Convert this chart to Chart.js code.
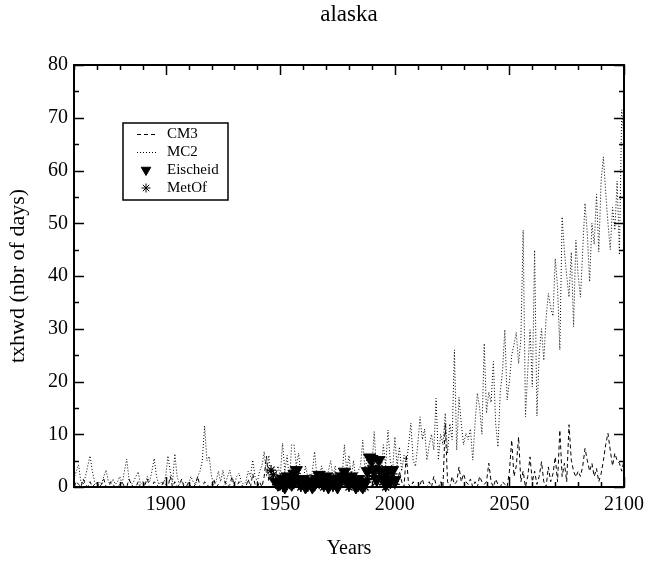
<!DOCTYPE html>
<html>
<head>
<meta charset="utf-8">
<script src="https://cdn.jsdelivr.net/npm/chart.js@4.4.0/dist/chart.umd.min.js"></script>
<style>
  html, body { margin: 0; padding: 0; background: #fff; }
</style>
</head>
<body>
<canvas id="chartAlaska" width="650" height="563"></canvas>
<script>
// yearly series, first value is firstYear
var firstYear = 1860;
var chartTitle = 'alaska';

var cm3Values = [
    0, 1, 0.5, 0, 1.5, 0.5, 0, 1, 0, 0.5,
    1, 0, 0.5, 1.5, 0, 0, 1, 0.5, 0, 0,
    0.5, 1, 0, 0, 1.5, 0.5, 0, 0, 1, 0,
    0, 0.5, 1.5, 0, 0, 1, 0.5, 0, 0, 1,
    0.5, 0, 2, 0, 1, 0, 0.5, 1.5, 0, 0,
    1, 0, 0, 0.5, 2, 0, 0, 1, 0.5, 0,
    0, 1.5, 0, 0.5, 0, 0, 1, 0, 0.5, 2,
    0, 0, 1, 0.5, 0, 0, 1.5, 0, 2.5, 0.5,
    0, 1, 0, 2, 5.8, 1, 3, 0.5, 1, 0,
    0.5, 2, 0, 1, 0.5, 0, 1, 0, 0.5, 1.5,
    0, 0.5, 1, 0, 0, 2, 0.5, 0, 1, 0,
    0.5, 0, 1.5, 0, 0, 1, 0, 0.5, 0, 2,
    0, 0.5, 0, 1, 0, 0, 1.5, 0.5, 0, 1,
    0, 2, 0.5, 0, 1, 0, 0, 1.5, 0, 0.5,
    1, 0, 3, 1, 0, 6.1, 0.5, 0, 1, 0,
    0, 0.5, 1.5, 0, 0, 1, 0, 2, 0.5, 0,
    1, 0, 12.1, 1, 0, 2, 0.5, 1, 3.8, 1,
    2.5, 1, 0.5, 1.5, 0, 1, 0, 2, 1, 0.5,
    1, 4.5, 1, 0, 1.5, 0.5, 0, 1, 0.5, 0,
    3, 8.9, 2, 4, 9.5, 1, 3, 0, 2, 5.7,
    1, 3, 0.5, 2, 4.8, 1, 0, 3.8, 1, 2.5,
    5.7, 1, 10.8, 2, 4.5, 1, 11.8, 5.1, 3, 1.9,
    3, 2, 4, 7.3, 5, 3, 4.5, 2, 3.5, 1,
    2.5, 5, 8, 10.2, 7, 4, 6.4, 5, 4.5, 3, 5
];

var mc2Values = [
    1.5, 3, 4.2, 1, 0.5, 2, 4, 5.9, 3, 1,
    0.5, 1, 0.5, 2, 3.2, 1, 0.5, 1.5, 0.5, 1,
    2, 0.5, 3, 5.3, 1.5, 0.5, 1, 2, 2.9, 0.5,
    1, 0.5, 2, 1, 3, 5.4, 2, 0.5, 1, 0.5,
    2, 5.9, 3, 1, 6.3, 2, 0.5, 1, 0.5, 1,
    0.5, 2, 1, 0.5, 2, 3, 5, 11.6, 5, 5.8,
    2, 0.5, 1, 3, 1, 3.2, 0.5, 2, 3.2, 1,
    0.5, 2, 2.6, 1, 0.5, 1, 3, 2, 5.1, 2,
    1, 3, 4, 6.7, 2, 6, 1, 3, 2, 4,
    2, 8.3, 3, 6, 1, 8, 8, 4, 6.4, 2,
    1, 4, 2, 0.5, 3, 6.7, 2, 1, 4, 2,
    1, 3, 5, 2, 4, 1, 3, 2, 8, 3,
    6, 2, 5, 1, 3, 4, 8.9, 3, 6, 2,
    4, 10.5, 3, 6, 2, 8, 4, 10.8, 5, 3,
    9.5, 4, 7.6, 3, 6, 4, 8, 12.1, 5, 3.9,
    8, 13.3, 9, 11, 5.1, 8, 10, 7, 16.8, 5.1,
    10, 8, 14, 6.4, 12, 9, 26, 7, 17, 12,
    8, 10.2, 9, 11, 5.1, 12, 17.8, 15, 10, 27.2,
    14, 18, 16, 23.8, 12, 7.6, 18, 22, 29.8, 16.5,
    20, 25, 27, 29.3, 23.4, 28, 48.7, 13.3, 22, 29.8,
    19, 44.9, 13.5, 25.3, 30, 24, 32, 36.7, 34, 32.4,
    43.3, 38, 26, 51.2, 44.6, 40, 36, 44.5, 30.4, 46.8,
    40, 36, 45, 53.8, 48, 38.9, 50, 46, 55.5, 44.6,
    58, 62.6, 56, 50, 45, 53, 48.7, 58, 44, 71.5, 66
];

var eischeidStart = 1948;
var eischeidValues = [
    1, 0.5, 0.7, 1.5, 0, 2, 1, 0.5, 2.5, 3.2,
    1, 0.5, 1.5, 0, 0.5, 1, 0, 0.5, 1.5, 2.3,
    1, 0.5, 2, 0, 1, 0.5, 1.5, 0, 1, 2,
    2.9, 1.5, 0.5, 2, 1, 0, 1.5, 0.5, 0, 1,
    3, 5.6, 5.3, 3.2, 1.5, 5.1, 3, 2, 0.5, 3.2,
    1, 3.2, 1.3
];

var metofStart = 1946;
var metofValues = [
    3.2, 2.3, 1, 0.5, 1.5, 0, 2, 1, 0.5, 1.5,
    0.5, 2, 1, 0, 1, 0.5, 0, 1.5, 0.5, 1,
    2, 0.5, 1, 0, 1.5, 0.5, 1, 0, 2, 1,
    0.5, 1.5, 2.5, 1, 0, 2, 0.5, 1, 0, 1,
    0.5, 0, 1.5, 3, 4, 2, 1, 3.5, 2, 1,
    0, 2, 1, 2.5, 0.5
];

var xTickLabels = [1900, 1950, 2000, 2050, 2100];
var yTickLabels = [0, 10, 20, 30, 40, 50, 60, 70, 80];

var serif = "'Liberation Serif', 'DejaVu Serif', serif";

function toPoints(start, values) {
    return values.map(function (v, i) { return {x: start + i, y: v}; });
}

// inward ticks on all four sides plus the frame, xmgrace style
var framePlugin = {
    id: 'frame',
    afterDatasetsDraw: function (chart) {
        var ctx = chart.ctx, a = chart.chartArea;
        var xs = chart.scales.x, ys = chart.scales.y;
        ctx.save();
        ctx.strokeStyle = '#000';
        ctx.lineWidth = 1.5;
        ctx.beginPath();
        for (var yr = xs.min; yr <= xs.max; yr += 10) {
            var px = Math.round(xs.getPixelForValue(yr)) + 0.5;
            var len = (yr % 50 === 0) ? 10 : 5;
            ctx.moveTo(px, a.bottom); ctx.lineTo(px, a.bottom - len);
            ctx.moveTo(px, a.top); ctx.lineTo(px, a.top + len);
        }
        for (var v = ys.min; v <= ys.max; v += 5) {
            var py = Math.round(ys.getPixelForValue(v)) + 0.5;
            var l = (v % 10 === 0) ? 10 : 5;
            ctx.moveTo(a.left, py); ctx.lineTo(a.left + l, py);
            ctx.moveTo(a.right, py); ctx.lineTo(a.right - l, py);
        }
        ctx.stroke();
        ctx.lineWidth = 2;
        ctx.strokeRect(a.left, a.top, a.right - a.left, a.bottom - a.top);

        // title centred over the plot frame
        ctx.fillStyle = '#000';
        ctx.font = '23px ' + serif;
        ctx.textAlign = 'center';
        ctx.textBaseline = 'middle';
        ctx.fillText(chartTitle, (a.left + a.right) / 2, 15);
        ctx.restore();
    }
};

var legendPlugin = {
    id: 'boxLegend',
    afterDraw: function (chart) {
        var ctx = chart.ctx;
        var bx = 123, by = 123, bw = 105, bh = 77;
        ctx.save();
        ctx.fillStyle = '#fff';
        ctx.fillRect(bx, by, bw, bh);
        ctx.strokeStyle = '#000';
        ctx.lineWidth = 1.5;
        ctx.strokeRect(bx, by, bw, bh);
        ctx.font = '15px ' + serif;
        ctx.textBaseline = 'middle';
        chart.data.datasets.forEach(function (ds, i) {
            var y = by + 11 + i * 18;
            ctx.fillStyle = '#000';
            ctx.strokeStyle = '#000';
            if (ds.showLine) {
                ctx.lineWidth = 1;
                ctx.setLineDash(ds.borderDash);
                ctx.beginPath();
                ctx.moveTo(137, y + 0.5);
                ctx.lineTo(156, y + 0.5);
                ctx.stroke();
                ctx.setLineDash([]);
            } else {
                Chart.helpers.drawPoint(ctx, {
                    pointStyle: ds.pointStyle,
                    rotation: ds.rotation || 0,
                    radius: ds.pointStyle === 'star' ? 4.5 : 5.5,
                    borderWidth: 1
                }, 146, y);
            }
            ctx.fillStyle = '#000';
            ctx.fillText(ds.label, 167, y);
        });
        ctx.restore();
    }
};

function drawAlaskaChart() {
    var ctxAlaska = document.getElementById('chartAlaska');
    var chartAlaska = new Chart(ctxAlaska, {
        type: 'scatter',
        data: {
            datasets: [{
                label: 'CM3',
                data: toPoints(firstYear, cm3Values),
                showLine: true,
                borderColor: '#000',
                borderWidth: 1,
                borderDash: [4, 3],
                pointRadius: 0,
                order: 2
            }, {
                label: 'MC2',
                data: toPoints(firstYear, mc2Values),
                showLine: true,
                borderColor: '#000',
                borderWidth: 1,
                borderDash: [1, 2],
                pointRadius: 0,
                order: 3
            }, {
                label: 'Eischeid',
                data: toPoints(eischeidStart, eischeidValues),
                showLine: false,
                pointStyle: 'triangle',
                rotation: 180,
                pointRadius: 7,
                backgroundColor: '#000',
                borderColor: '#000',
                borderWidth: 1,
                clip: false,
                order: 0
            }, {
                label: 'MetOf',
                data: toPoints(metofStart, metofValues),
                showLine: false,
                pointStyle: 'star',
                pointRadius: 5,
                borderColor: '#000',
                borderWidth: 1.2,
                clip: false,
                order: 1
            }]
        },
        options: {
            responsive: false,
            animation: false,
            devicePixelRatio: 1,
            layout: { padding: { left: 0, right: 22, top: 65, bottom: 0 } },
            plugins: {
                legend: { display: false },
                tooltip: { enabled: false },
                title: { display: false }
            },
            scales: {
                x: {
                    type: 'linear',
                    min: 1860,
                    max: 2100,
                    afterBuildTicks: function (s) { s.ticks = xTickLabels.map(function (v) { return {value: v}; }); },
                    afterFit: function (s) { s.height = 76; },
                    grid: { display: false, drawTicks: false },
                    border: { display: false },
                    ticks: {
                        color: '#000',
                        font: { family: serif, size: 20 },
                        padding: 6,
                        maxRotation: 0,
                        autoSkip: false,
                        callback: function (v) { return String(v); }
                    },
                    title: {
                        display: true,
                        text: 'Years',
                        color: '#000',
                        font: { family: serif, size: 20 },
                        padding: { top: 0, bottom: 2 }
                    }
                },
                y: {
                    min: 0,
                    max: 80,
                    afterBuildTicks: function (s) { s.ticks = yTickLabels.map(function (v) { return {value: v}; }); },
                    afterFit: function (s) { s.width = 74; },
                    grid: { display: false, drawTicks: false },
                    border: { display: false },
                    ticks: {
                        color: '#000',
                        font: { family: serif, size: 20 },
                        padding: 6,
                        callback: function (v) { return String(v); }
                    },
                    title: {
                        display: true,
                        text: 'txhwd (nbr of days)',
                        color: '#000',
                        font: { family: serif, size: 22 },
                        padding: { top: 5, bottom: 0 }
                    }
                }
            }
        },
        plugins: [framePlugin, legendPlugin]
    });
}

drawAlaskaChart();
</script>
</body>
</html>
